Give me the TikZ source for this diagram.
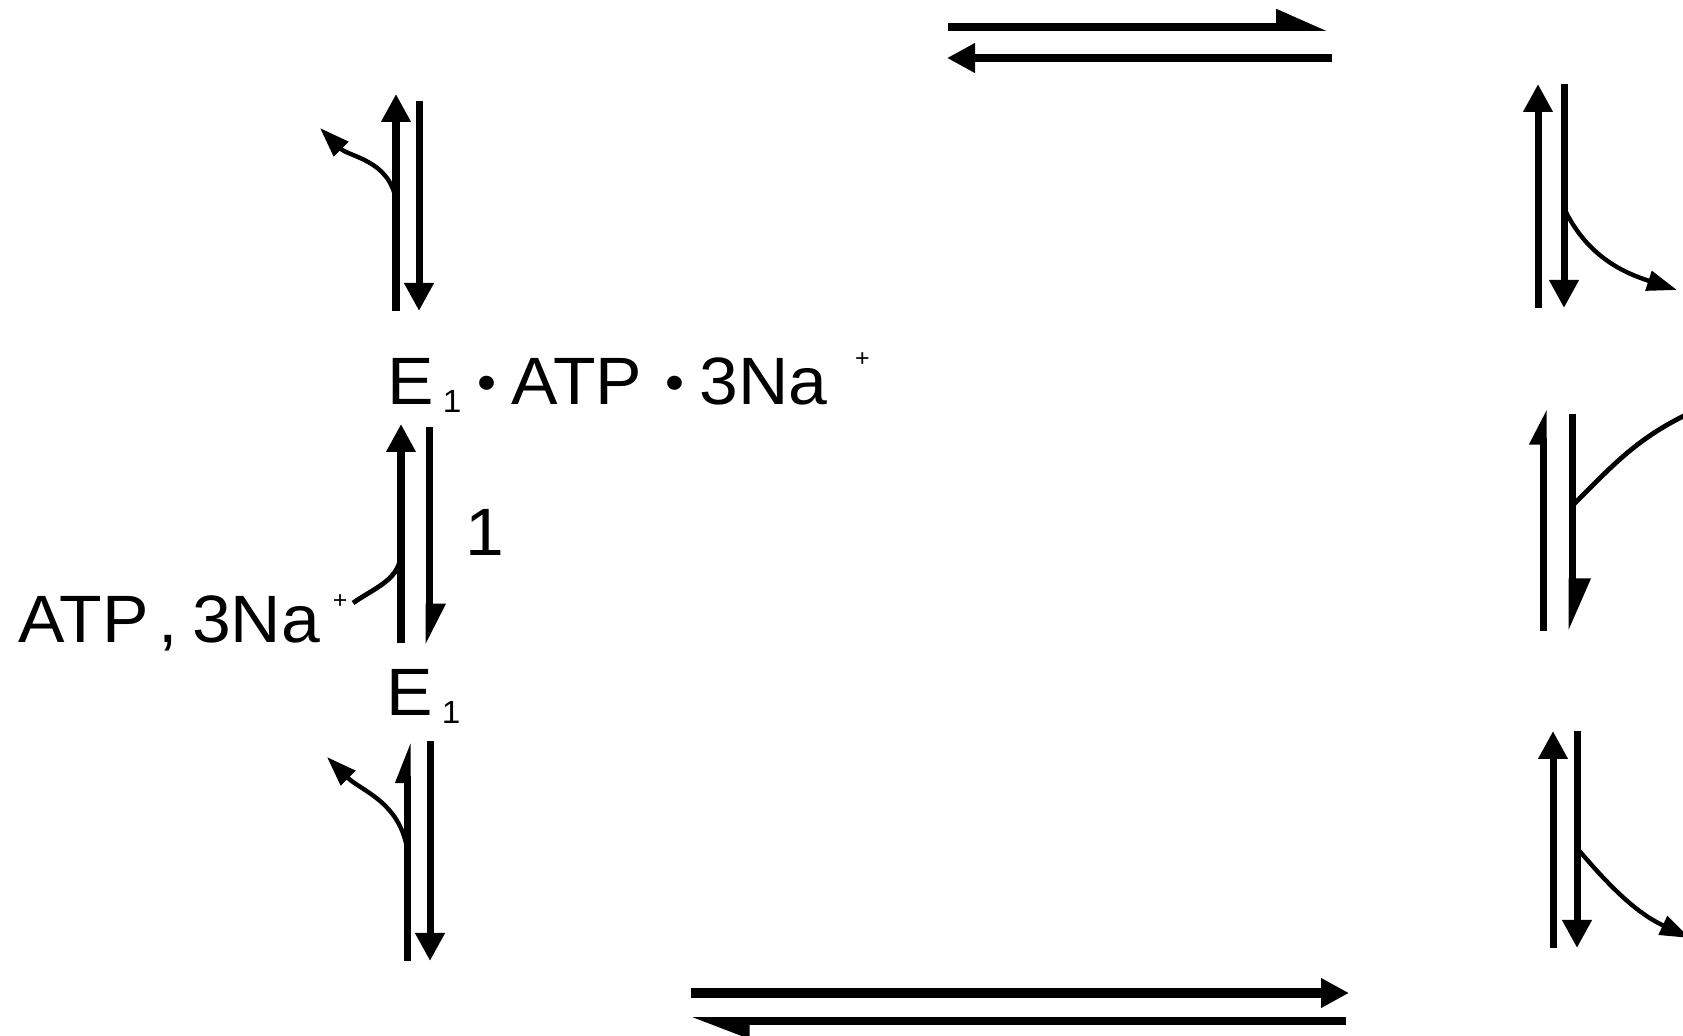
\documentclass[tikz,border=0pt]{standalone}
\usepackage{fontspec}
\setmainfont{Liberation Sans}[FakeStretch=1.04]
\usetikzlibrary{arrows.meta}

\newcommand{\lowone}{\raisebox{-4pt}{\fontsize{16}{16}\selectfont 1}}
\newcommand{\highplus}[1]{\raisebox{#1}{\fontsize{12}{12}\selectfont +}}
\newcommand{\dotsep}{\raisebox{2.3pt}{\fontsize{26}{26}\selectfont\textbullet}}

\begin{document}
\begin{tikzpicture}[x=0.5pt, y=-0.5pt,
  rxn/.style={line width=3.5pt},
  fwd/.style={rxn, -{Triangle[length=14pt,width=14pt]}},
  harp/.style n args={2}{rxn, -{Triangle[length=#1,width=#2,left]}},
  side/.style={line width=2.2pt, -{Triangle[length=15pt,width=10pt]}},
  lab/.style={font=\fontsize{33.5}{38}\selectfont, inner sep=0pt}]
  % frame of the picture
  \useasboundingbox (0,0) rectangle (1683,1036);
  \clip (0,0) rectangle (1683,1036);

  % states and labels
  \node[lab, anchor=base west] (e1atp) at (387,405) {E\hspace{4.5pt}\lowone\hspace{8pt}\dotsep\hspace{7.7pt}ATP\hspace{11.5pt}\dotsep\hspace{7.7pt}3Na\hspace{14pt}\highplus{19pt}};
  \node[lab, anchor=base west] (atpna) at (18,643) {ATP\hspace{4.7pt},\hspace{7.3pt}3Na\hspace{6.5pt}\highplus{17pt}};
  \node[lab, anchor=base west] (e1) at (386,716) {E\hspace{4.5pt}\lowone};
  \node[lab] (one) at (485,532) {1};

  % top step
  \coordinate (ta) at (948,27);   \coordinate (tb) at (1328,27);
  \coordinate (tc) at (1332,58);  \coordinate (td) at (947,58);
  \draw[harp={21pt}{17pt}, line width=4pt] (ta) -- (tb);
  \draw[fwd, line width=3.8pt] (tc) -- (td);

  % left column, upper pair
  \coordinate (la) at (396,311);  \coordinate (lb) at (396,94);
  \coordinate (lc) at (419,101);  \coordinate (ld) at (419,311);
  \coordinate (le) at (396,200);  \coordinate (lf) at (320,128);
  \draw[fwd, line width=3.8pt] (la) -- (lb);
  \draw[fwd] (lc) -- (ld);
  \draw[side] (le) to[out=100, in=-45] (lf);

  % left column, middle pair (step 1)
  \coordinate (ma) at (401,643);  \coordinate (mb) at (401,424);
  \coordinate (mc) at (429,427);  \coordinate (md) at (429,645);
  \coordinate (me) at (353,603);  \coordinate (mf) at (401,552);
  \draw[fwd, line width=3.8pt] (ma) -- (mb);
  \draw[harp={17pt}{16pt}] (mc) -- (md);
  \draw[line width=2.4pt] (me) to[out=35, in=-90] (mf);

  % left column, lower pair
  \coordinate (na) at (407,961);  \coordinate (nb) at (407,741);
  \coordinate (nc) at (430,741);  \coordinate (nd) at (430,961);
  \coordinate (ne) at (407,848);  \coordinate (nf) at (327,757);
  \draw[harp={16pt}{11pt}] (na) -- (nb);
  \draw[fwd] (nc) -- (nd);
  \draw[side] (ne) to[out=100, in=-45] (nf);

  % bottom step
  \coordinate (ba) at (691,993);  \coordinate (bb) at (1349,993);
  \coordinate (bc) at (1346,1021); \coordinate (bd) at (691,1021);
  \draw[fwd, line width=4.6pt] (ba) -- (bb);
  \draw[harp={24pt}{17pt}, line width=3.8pt] (bc) -- (bd);

  % right column, upper pair
  \coordinate (ra) at (1538,308); \coordinate (rb) at (1538,84);
  \coordinate (rc) at (1564,84);  \coordinate (rd) at (1564,308);
  \coordinate (re) at (1564,208); \coordinate (rf) at (1677,290);
  \draw[fwd] (ra) -- (rb);
  \draw[fwd] (rc) -- (rd);
  \draw[side] (re) to[out=-65, in=162] (rf);

  % right column, middle pair
  \coordinate (sa) at (1543,631); \coordinate (sb) at (1543,409);
  \coordinate (sc) at (1572,414); \coordinate (sd) at (1572,631);
  \coordinate (se) at (1572,506); \coordinate (sf) at (1692,412);
  \draw[harp={14pt}{13pt}] (sa) -- (sb);
  \draw[harp={22pt}{18pt}] (sc) -- (sd);
  \draw[line width=2.4pt] (se) to[out=45, in=-155] (sf);

  % right column, lower pair
  \coordinate (ua) at (1553,948); \coordinate (ub) at (1553,731);
  \coordinate (uc) at (1577,731); \coordinate (ud) at (1577,948);
  \coordinate (ue) at (1577,848); \coordinate (uf) at (1690,938);
  \draw[fwd] (ua) -- (ub);
  \draw[fwd] (uc) -- (ud);
  \draw[side] (ue) to[out=-50, in=155] (uf);
\end{tikzpicture}
\end{document}
